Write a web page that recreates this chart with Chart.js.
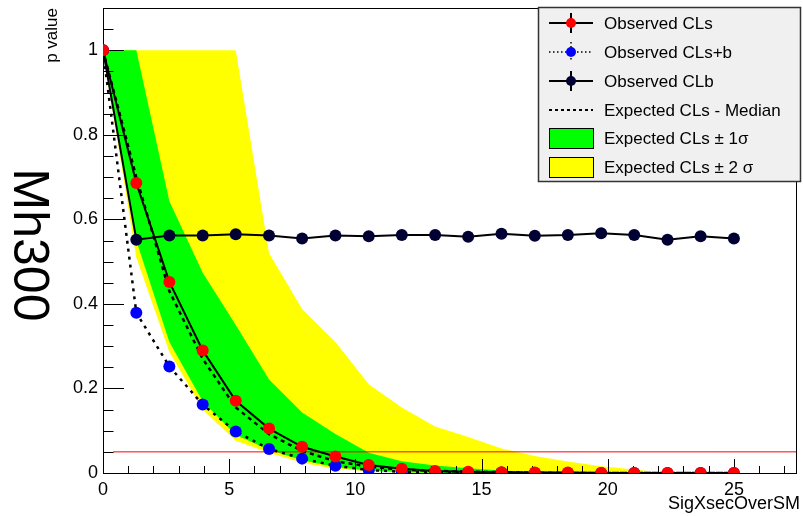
<!DOCTYPE html>
<html>
<head>
<meta charset="utf-8">
<script src="https://cdn.jsdelivr.net/npm/chart.js@4"></script>
<style>
  body { margin: 0; background: #fff; }
  canvas { display: block; }
</style>
</head>
<body>
<canvas id="plot" width="803" height="516"></canvas>
<script>
// x points (SigXsecOverSM)
const xs = [0, 1.32, 2.63, 3.95, 5.26, 6.58, 7.89, 9.21, 10.53, 11.84, 13.16, 14.47, 15.79, 17.11, 18.42, 19.74, 21.05, 22.37, 23.68, 25];

const obsCLs   = [1, 0.686, 0.452, 0.29, 0.171, 0.105, 0.062, 0.039, 0.019, 0.01, 0.005, 0.003, 0.002, 0.001, 0.001, 0, 0, 0, 0, 0];
const obsCLsb  = [1, 0.379, 0.252, 0.162, 0.098, 0.057, 0.034, 0.017, 0.007, 0.003, 0.002, 0.001, 0.001, 0, 0, 0, 0, 0, 0, 0];
const obsCLb   = [1, 0.552, 0.562, 0.562, 0.565, 0.562, 0.555, 0.562, 0.56, 0.563, 0.563, 0.559, 0.566, 0.561, 0.563, 0.567, 0.563, 0.552, 0.56, 0.555];
const expMed   = [1, 0.70, 0.43, 0.27, 0.155, 0.092, 0.052, 0.028, 0.015, 0.008, 0.005, 0.003, 0.002, 0.001, 0, 0, 0, 0, 0, 0];
const exp1Up   = [1, 1, 0.643, 0.474, 0.35, 0.221, 0.143, 0.092, 0.048, 0.028, 0.018, 0.011, 0.006, 0.002, 0, 0, 0, 0, 0, 0];
const exp1Lo   = [1, 0.55, 0.31, 0.17, 0.09, 0.055, 0.03, 0.014, 0.006, 0.002, 0, 0, 0, 0, 0, 0, 0, 0, 0, 0];
const exp2Up   = [1, 1, 1, 1, 1, 0.52, 0.388, 0.31, 0.21, 0.155, 0.11, 0.085, 0.058, 0.04, 0.027, 0.016, 0.008, 0, 0, 0];
const exp2Lo   = [1, 0.51, 0.286, 0.15, 0.076, 0.048, 0.024, 0.01, 0.004, 0.001, 0, 0, 0, 0, 0, 0, 0, 0, 0, 0];

const xTicks = [0, 5, 10, 15, 20, 25];
const yTicks = [0, 0.2, 0.4, 0.6, 0.8, 1];
const cut = 0.05;

const pts = ys => xs.map((x, i) => ({ x: x, y: ys[i] }));
const FONT = "'Liberation Sans', Arial, sans-serif";

const band = (ys, color, fillTo, order) => ({
  data: pts(ys), borderWidth: 0, pointRadius: 0, backgroundColor: color,
  fill: fillTo, order: order, tension: 0
});

// ROOT-like frame, inward ticks and extra labels
const framePlugin = {
  id: 'frame',
  afterDatasetDraw(chart, args) {
    if (args.index !== 4) return;
    const { ctx, chartArea: a, scales: { x, y } } = chart;
    ctx.save();
    ctx.strokeStyle = '#000';
    ctx.lineWidth = 1;
    ctx.strokeRect(a.left + 0.5, a.top + 0.5, a.right - a.left - 1, a.bottom - a.top);
    ctx.beginPath();
    for (let v = 0; v <= 27; v++) {
      const px = Math.round(x.getPixelForValue(v)) + 0.5;
      const len = v % 5 === 0 ? 14 : 7;
      ctx.moveTo(px, a.bottom); ctx.lineTo(px, a.bottom - len);
    }
    for (let k = 0; k <= 22; k++) {
      const py = Math.round(y.getPixelForValue(k * 0.05)) + 0.5;
      const len = k % 4 === 0 ? 21 : 10.5;
      ctx.moveTo(a.left, py); ctx.lineTo(a.left + len, py);
    }
    ctx.stroke();
    ctx.restore();
  },
  afterDraw(chart) {
    const ctx = chart.ctx;
    ctx.save();
    ctx.fillStyle = '#000';
    // axis titles
    ctx.font = '18px ' + FONT;
    ctx.textAlign = 'right';
    ctx.textBaseline = 'alphabetic';
    ctx.fillText('SigXsecOverSM', 800, 509);
    ctx.save();
    ctx.translate(57, 8);
    ctx.rotate(-Math.PI / 2);
    ctx.font = '17px ' + FONT;
    ctx.fillText('p value', 0, 0);
    ctx.restore();
    ctx.save();
    ctx.translate(28, 245);
    ctx.rotate(Math.PI / 2);
    ctx.font = '50px ' + FONT;
    ctx.textAlign = 'center';
    ctx.textBaseline = 'middle';
    ctx.fillText('Mh300', 0, 0);
    ctx.restore();

    // legend
    const L = 538, T = 7, R = 801, B = 182;
    ctx.fillStyle = '#f0f0f0';
    ctx.fillRect(L, T, R - L, B - T);
    ctx.strokeStyle = '#333';
    ctx.lineWidth = 1.5;
    ctx.strokeRect(L + 0.5, T + 0.5, R - L - 1, B - T - 1);
    const rows = [
      { text: 'Observed CLs', kind: 'mark', color: '#ff0000', dash: [] },
      { text: 'Observed CLs+b', kind: 'mark', color: '#0000ff', dash: [1.5, 2.5] },
      { text: 'Observed CLb', kind: 'mark', color: '#000033', dash: [] },
      { text: 'Expected CLs - Median', kind: 'line', dash: [3, 3] },
      { text: 'Expected CLs \u00b1 1\u03c3', kind: 'box', color: '#00ff00' },
      { text: 'Expected CLs \u00b1 2 \u03c3', kind: 'box', color: '#ffff00' }
    ];
    const cy = [23, 52, 81, 110, 138, 167];
    rows.forEach((r, i) => {
      const yc = cy[i];
      ctx.save();
      ctx.strokeStyle = '#000';
      if (r.kind === 'box') {
        ctx.fillStyle = r.color;
        ctx.fillRect(549, yc - 10, 44, 20);
        ctx.lineWidth = 1;
        ctx.strokeRect(549.5, yc - 9.5, 44, 20);
      } else {
        ctx.lineWidth = r.kind === 'line' ? 2 : (r.dash.length ? 1.5 : 2);
        ctx.setLineDash(r.dash);
        ctx.beginPath();
        ctx.moveTo(549, yc); ctx.lineTo(593, yc);
        if (r.kind === 'mark') { ctx.moveTo(571, yc - 10); ctx.lineTo(571, yc + 10); }
        ctx.stroke();
        if (r.kind === 'mark') {
          ctx.fillStyle = r.color;
          ctx.beginPath();
          ctx.arc(571, yc, 5, 0, Math.PI * 2);
          ctx.fill();
        }
      }
      ctx.restore();
      ctx.fillStyle = '#000';
      ctx.font = '17px ' + FONT;
      ctx.textAlign = 'left';
      ctx.textBaseline = 'middle';
      ctx.fillText(r.text, 604, yc + 1);
    });
    ctx.restore();
  }
};

new Chart(document.getElementById('plot').getContext('2d'), {
  type: 'line',
  data: {
    datasets: [
      band(exp2Up, '#ffff00', 1, 8),
      band(exp2Lo, '#ffff00', false, 7),
      band(exp1Up, '#00ff00', 3, 6),
      band(exp1Lo, '#00ff00', false, 5),
      { data: [{ x: 0.4, y: cut }, { x: 27.5, y: cut }], borderColor: '#ff0000', borderWidth: 1,
        pointRadius: 0, fill: false, order: 4 },
      { data: pts(expMed), borderColor: '#000', borderWidth: 2.5, borderDash: [4, 4],
        pointRadius: 0, fill: false, order: 3, tension: 0 },
      { data: pts(obsCLb), borderColor: '#000', borderWidth: 2, pointRadius: 6,
        pointBackgroundColor: '#000033', pointBorderWidth: 0, fill: false, order: 2, tension: 0 },
      { data: pts(obsCLsb), borderColor: '#000', borderWidth: 2.5, borderDash: [3, 5], pointRadius: 6,
        pointBackgroundColor: '#0000ff', pointBorderWidth: 0, fill: false, order: 1, tension: 0 },
      { data: pts(obsCLs), borderColor: '#000', borderWidth: 2, pointRadius: 6,
        pointBackgroundColor: '#ff0000', pointBorderWidth: 0, fill: false, order: 0, tension: 0 }
    ]
  },
  options: {
    responsive: false,
    animation: false,
    layout: { padding: { top: 8, right: 3, left: 0, bottom: 0 } },
    plugins: { legend: { display: false }, tooltip: { enabled: false } },
    scales: {
      x: {
        type: 'linear', min: 0, max: 27.5,
        grid: { display: false, drawTicks: false },
        border: { display: false },
        afterFit: s => { s.height = 43; s.paddingLeft = 0; s.paddingRight = 0; },
        afterBuildTicks: s => { s.ticks = xTicks.map(v => ({ value: v })); },
        ticks: { padding: 6, color: '#000', font: { family: FONT, size: 18 }, maxRotation: 0,
                 callback: v => String(v) }
      },
      y: {
        type: 'linear', min: 0, max: 1.1,
        grid: { display: false, drawTicks: false },
        border: { display: false },
        afterFit: s => { s.width = 103; s.paddingTop = 0; s.paddingBottom = 0; },
        afterBuildTicks: s => { s.ticks = yTicks.map(v => ({ value: v })); },
        ticks: { padding: 5, color: '#000', font: { family: FONT, size: 18 },
                 callback: v => String(Math.round(v * 10) / 10) }
      }
    }
  },
  plugins: [framePlugin]
});
</script>
</body>
</html>
